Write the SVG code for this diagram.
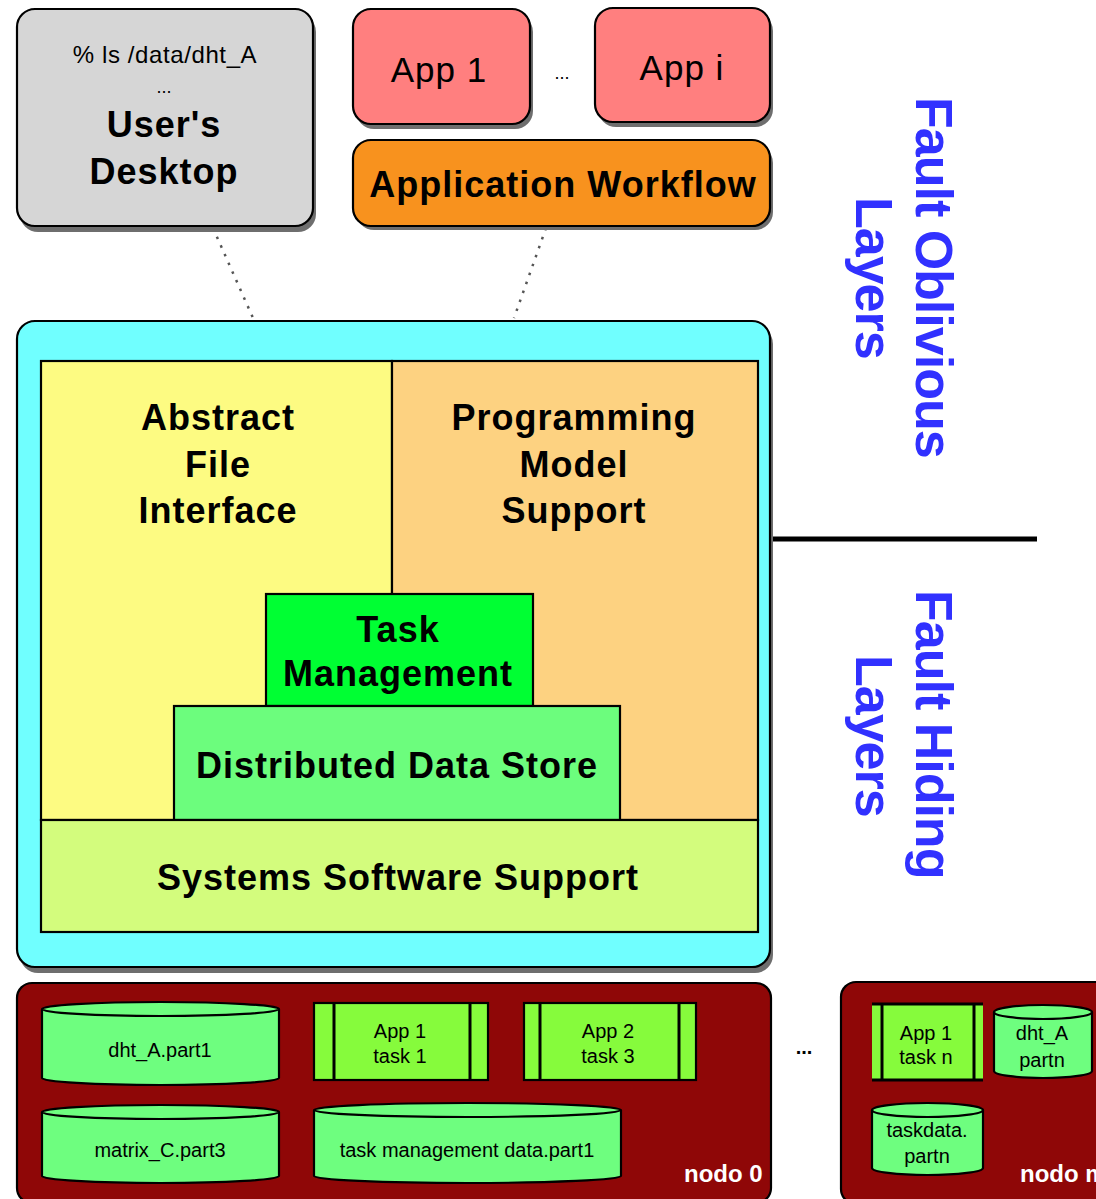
<svg xmlns="http://www.w3.org/2000/svg" width="1096" height="1199" viewBox="0 0 1096 1199">
  <style>
    .box { stroke: #000; stroke-width: 2.2; }
    .shadow { fill: #6e6e6e; }
    .bold { font-family: "Liberation Sans", Arial, sans-serif; font-weight: bold; font-size: 36px; letter-spacing: 1px; fill: #000; text-anchor: middle; }
    .reg { font-family: "Liberation Sans", Arial, sans-serif; fill: #000; text-anchor: middle; }
    .small { font-family: "Liberation Sans", Arial, sans-serif; font-size: 20px; fill: #000; text-anchor: middle; }
    .side { font-family: "Liberation Sans", Arial, sans-serif; font-weight: bold; font-size: 52px; letter-spacing: -1px; fill: #3131ff; }
    .nodelabel { font-family: "Liberation Sans", Arial, sans-serif; font-weight: bold; font-size: 24px; fill: #fff; }
    .cyl { fill: #6efe7f; stroke: #000; stroke-width: 2.2; }
    .proc { fill: #86fb3c; }
    .pline { stroke: #000; stroke-width: 3; }
    .dotted { stroke: #555; stroke-width: 2.5; stroke-dasharray: 2.5 7; fill: none; }
  </style>

  <!-- connectors -->
  <g id="connectors">
    <line class="dotted" x1="213" y1="228" x2="253" y2="318"/>
    <line class="dotted" x1="546" y1="228" x2="514" y2="318"/>
    <line x1="770" y1="539" x2="1037" y2="539" stroke="#000" stroke-width="5"/>
  </g>

  <!-- user desktop -->
  <g id="desktop">
    <rect class="shadow" x="20" y="14" width="296" height="218" rx="18"/>
    <rect class="box" x="17" y="9" width="296" height="217" rx="18" fill="#d6d6d6"/>
    <text class="reg" x="165" y="63" font-size="24" letter-spacing="0.6">% ls /data/dht_A</text>
    <text class="reg" x="164" y="93" font-size="18">...</text>
    <text class="bold" x="164" y="137">User's</text>
    <text class="bold" x="164" y="184">Desktop</text>
  </g>

  <!-- applications -->
  <g id="app1">
    <rect class="shadow" x="356" y="14" width="177" height="115" rx="18"/>
    <rect class="box" x="353" y="9" width="177" height="115" rx="18" fill="#ff7f7f"/>
    <text class="reg" x="439" y="82" font-size="35" letter-spacing="1">App 1</text>
  </g>
  <text class="reg" x="562" y="79" font-size="18">...</text>
  <g id="appi">
    <rect class="shadow" x="598" y="13" width="175" height="114" rx="18"/>
    <rect class="box" x="595" y="8" width="175" height="114" rx="18" fill="#ff7f7f"/>
    <text class="reg" x="682" y="80" font-size="35" letter-spacing="1">App i</text>
  </g>
  <g id="workflow">
    <rect class="shadow" x="356" y="145" width="417" height="85" rx="18"/>
    <rect class="box" x="353" y="140" width="417" height="86" rx="18" fill="#f8921e"/>
    <text class="bold" x="563" y="197">Application Workflow</text>
  </g>

  <!-- software stack -->
  <g id="stack">
    <rect class="shadow" x="20" y="326" width="753" height="647" rx="18"/>
    <rect class="box" x="17" y="321" width="753" height="646" rx="18" fill="#70ffff"/>
  </g>
  <g id="file-interface">
    <rect class="box" x="41" y="361" width="351" height="459" fill="#fdfb82"/>
    <text class="bold" x="218" y="430">Abstract</text>
    <text class="bold" x="218" y="477">File</text>
    <text class="bold" x="218" y="523">Interface</text>
  </g>
  <g id="programming-model">
    <rect class="box" x="392" y="361" width="366" height="459" fill="#fdd281"/>
    <text class="bold" x="574" y="430">Programming</text>
    <text class="bold" x="574" y="477">Model</text>
    <text class="bold" x="574" y="523">Support</text>
  </g>
  <g id="task-management">
    <rect class="box" x="266" y="594" width="267" height="112" fill="#00ff33"/>
    <text class="bold" x="398" y="642">Task</text>
    <text class="bold" x="398" y="686">Management</text>
  </g>
  <g id="data-store">
    <rect class="box" x="174" y="706" width="446" height="114" fill="#6cfd7d"/>
    <text class="bold" x="397" y="778">Distributed Data Store</text>
  </g>
  <g id="systems-software">
    <rect class="box" x="41" y="820" width="717" height="112" fill="#d3fc7d"/>
    <text class="bold" x="398" y="890">Systems Software Support</text>
  </g>

  <!-- layer labels -->
  <g id="fault-oblivious">
    <text class="side" transform="translate(916,97) rotate(90)">Fault Oblivious</text>
    <text class="side" transform="translate(856,197) rotate(90)">Layers</text>
  </g>
  <g id="fault-hiding">
    <text class="side" transform="translate(916,590) rotate(90)">Fault Hiding</text>
    <text class="side" transform="translate(856,655) rotate(90)">Layers</text>
  </g>

  <!-- node 0 -->
  <g id="node0">
    <rect class="box" x="17" y="983" width="754" height="220" rx="15" fill="#8f0707"/>
    <g id="dht-part1">
      <path class="cyl" d="M42 1009 V1078 A118.5 7 0 0 0 279 1078 V1009"/>
      <ellipse class="cyl" cx="160.5" cy="1009" rx="118.5" ry="7"/>
      <text class="small" x="160" y="1057">dht_A.part1</text>
    </g>
    <g id="matrix-part3">
      <path class="cyl" d="M42 1112 V1176 A118.5 7 0 0 0 279 1176 V1112"/>
      <ellipse class="cyl" cx="160.5" cy="1112" rx="118.5" ry="7"/>
      <text class="small" x="160" y="1157">matrix_C.part3</text>
    </g>
    <g id="app1-task1">
      <rect class="proc box" x="314" y="1003" width="174" height="77"/>
      <line class="pline" x1="334" y1="1003" x2="334" y2="1080"/>
      <line class="pline" x1="470" y1="1003" x2="470" y2="1080"/>
      <text class="small" x="400" y="1038">App 1</text>
      <text class="small" x="400" y="1063">task 1</text>
    </g>
    <g id="app2-task3">
      <rect class="proc box" x="524" y="1003" width="172" height="77"/>
      <line class="pline" x1="540" y1="1003" x2="540" y2="1080"/>
      <line class="pline" x1="679" y1="1003" x2="679" y2="1080"/>
      <text class="small" x="608" y="1038">App 2</text>
      <text class="small" x="608" y="1063">task 3</text>
    </g>
    <g id="taskmgmt-part1">
      <path class="cyl" d="M314 1110 V1176 A153.5 7 0 0 0 621 1176 V1110"/>
      <ellipse class="cyl" cx="467.5" cy="1110" rx="153.5" ry="7"/>
      <text class="small" x="467" y="1157">task management data.part1</text>
    </g>
    <text class="nodelabel" x="684" y="1182">nodo 0</text>
  </g>

  <text class="reg" x="804" y="1054" font-size="20" font-weight="bold">...</text>

  <!-- node m (runs past the right edge) -->
  <g id="nodem">
    <rect class="box" x="841" y="982" width="290" height="222" rx="15" fill="#8f0707"/>
    <g id="app1-taskn">
      <rect class="proc" x="872" y="1004" width="111" height="76"/>
      <line class="pline" x1="872" y1="1004" x2="983" y2="1004"/>
      <line class="pline" x1="872" y1="1080" x2="983" y2="1080"/>
      <line class="pline" x1="882" y1="1004" x2="882" y2="1080"/>
      <line class="pline" x1="974" y1="1004" x2="974" y2="1080"/>
      <text class="small" x="926" y="1040">App 1</text>
      <text class="small" x="926" y="1064">task n</text>
    </g>
    <g id="dht-partn">
      <path class="cyl" d="M994 1012 V1071 A49 7 0 0 0 1092 1071 V1012"/>
      <ellipse class="cyl" cx="1043" cy="1012" rx="49" ry="7"/>
      <text class="small" x="1042" y="1040">dht_A</text>
      <text class="small" x="1042" y="1067">partn</text>
    </g>
    <g id="taskdata-partn">
      <path class="cyl" d="M872 1110 V1168 A55.5 7 0 0 0 983 1168 V1110"/>
      <ellipse class="cyl" cx="927.5" cy="1110" rx="55.5" ry="7"/>
      <text class="small" x="927" y="1137">taskdata.</text>
      <text class="small" x="927" y="1163">partn</text>
    </g>
    <text class="nodelabel" x="1020" y="1182">nodo m</text>
  </g>
</svg>
